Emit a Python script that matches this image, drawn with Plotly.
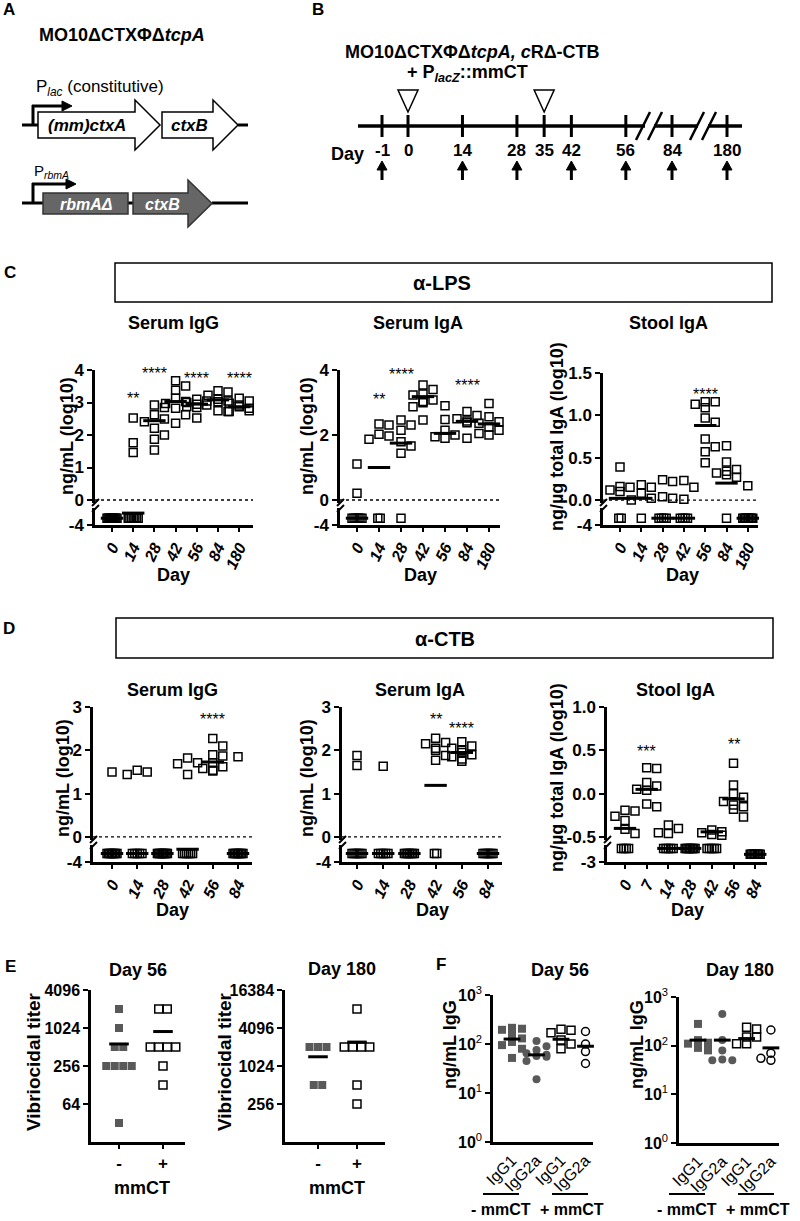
import numpy as np
import plotly.graph_objects as go
from collections import Counter

W, H = 800, 1221
FONT = "Liberation Sans, Arial, Helvetica, sans-serif"
GRAY = "#595959"

# ---------------- data ----------------
BLD = -3.6     # plotted level of samples below detection (panel C)
BLD_D = -3.5   # panel D serum
BLD_S = -2.2   # panel D stool

C_DAYS = ["0", "14", "28", "42", "56", "84", "180"]
C_IGG = [
    [BLD] * 10,
    [2.52, 1.76, 1.46] + [BLD] * 7,
    [2.92, 2.85, 2.62, 2.49, 2.41, 2.21, 2.0, 1.87, 1.54],
    [3.67, 3.51, 3.38, 3.13, 3.03, 2.97, 2.82, 2.62, 2.36],
    [3.1, 3.05, 3.0, 2.95, 2.92, 2.88, 2.85, 2.52],
    [3.36, 3.32, 3.22, 3.1, 3.05, 3.02, 2.75, 2.72],
    [3.13, 3.05, 2.98, 2.92, 2.87, 2.82, 2.75, 2.72],
]
C_IGG_MEAN = [BLD, -3.3, 2.44, 3.03, 2.95, 3.08, 2.87]
C_IGG_STARS = ["", "**", "****", "****", "****", "****", "****"]
C_IGG_STAR_Y = [None, 3.23, 3.97, 4.82, 3.82, 4.29, 3.82]

C_IGA = [
    [1.11, 0.21] + [BLD] * 6,
    [2.34, 2.31, 2.02, 1.97, 1.87] + [BLD] * 2,
    [2.46, 2.31, 2.15, 1.79, 1.66, 1.44, BLD],
    [3.54, 3.4, 3.26, 3.23, 3.08, 3.03, 2.99, 2.87, 2.46],
    [2.9, 2.48, 2.15, 2.0, 1.95, 1.9],
    [2.72, 2.6, 2.5, 2.43, 2.38, 1.9],
    [2.97, 2.56, 2.41, 2.36, 2.25, 2.15, 2.05, 2.0],
]
C_IGA_MEAN = [BLD, 1.0, 1.75, 3.18, 2.05, 2.42, 2.34]
C_IGA_STARS = ["", "**", "****", "****", "****", "****", "****"]
C_IGA_STAR_Y = [None, 3.18, 3.95, 4.56, 4.15, 3.6, 4.15]

C_STOOL = [
    [0.39, 0.16, 0.15, 0.12, 0.1] + [BLD] * 2,
    [0.18, 0.15, 0.08, 0.02, 0.0] + [BLD],
    [0.24, 0.22, 0.04, 0.02] + [BLD] * 4,
    [0.23, 0.15, 0.01] + [BLD] * 4,
    [1.16, 1.16, 1.13, 1.09, 0.97, 0.92, 0.72, 0.63, 0.57, 0.44],
    [0.64, 0.45, 0.36, 0.34, 0.32, 0.3, 0.27] + [BLD],
    [0.17] + [BLD] * 8,
]
C_STOOL_MEAN = [0.02, 0.02, BLD, BLD, 0.88, 0.2, BLD]
C_STOOL_STARS = ["", "", "", "", "****", "", ""]
C_STOOL_STAR_Y = [None, None, None, None, 1.28, None, None]

D_DAYS = ["0", "14", "28", "42", "56", "84"]
D_IGG = [
    [1.5] + [BLD_D] * 8,
    [1.54, 1.5, 1.44] + [BLD_D] * 5,
    [BLD_D] * 9,
    [1.82, 1.71, 1.69, 1.44] + [BLD_D] * 6,
    [2.27, 2.1, 1.9, 1.87, 1.71, 1.62, 1.58, 1.54, 1.52],
    [1.85] + [BLD_D] * 8,
]
D_IGG_MEAN = [BLD_D, BLD_D, BLD_D, -3.25, 1.73, BLD_D]
D_IGG_STARS = ["", "", "", "", "****", ""]
D_IGG_STAR_Y = [None, None, None, None, 2.77, None]

D_IGA = [
    [1.88, 1.65] + [BLD_D] * 6,
    [1.63] + [BLD_D] * 5,
    [BLD_D] * 7,
    [2.28, 2.18, 2.15, 2.05, 2.0, 1.88, 1.77] + [BLD_D] * 2,
    [2.2, 2.1, 2.05, 2.0, 1.95, 1.9, 1.85, 1.8, 1.75],
    [BLD_D] * 6,
]
D_IGA_MEAN = [BLD_D, BLD_D, BLD_D, 1.19, 1.95, BLD_D]
D_IGA_STARS = ["", "", "", "**", "****", ""]
D_IGA_STAR_Y = [None, None, None, 2.77, 2.58, None]

D_STOOL_DAYS = ["0", "7", "14", "28", "42", "56", "84"]
D_STOOL = [
    [-0.19, -0.2, -0.26, -0.31, -0.41, -0.46] + [BLD_S] * 4,
    [0.3, 0.29, 0.13, 0.09, 0.05, 0.04, -0.12, -0.15],
    [-0.36, -0.4, -0.45, -0.46] + [BLD_S] * 5,
    [BLD_S] * 8,
    [-0.42, -0.44, -0.45, -0.47, -0.48] + [BLD_S] * 5,
    [0.35, 0.1, 0.0, -0.04, -0.09, -0.13, -0.15, -0.18, -0.27],
    [-2.55] * 8,
]
D_STOOL_MEAN = [-0.4, 0.05, BLD_S, BLD_S, -0.44, -0.06, -2.55]
D_STOOL_STARS = ["", "***", "", "", "", "**", ""]
D_STOOL_STAR_Y = [None, 0.52, None, None, None, 0.6, None]

E_CATS = ["-", "+"]
E56 = [[2048, 1024, 512, 512, 256, 256, 256, 256, 32],
       [2048, 2048, 512, 512, 512, 512, 256, 128]]
E56_MEAN = [572, 900]
E180 = [[2048, 2048, 2048, 512, 512],
        [8192, 2048, 2048, 2048, 2048, 512, 256]]
E180_MEAN = [1434, 2450]

F_CATS = ["IgG1", "IgG2a", "IgG1", "IgG2a"]
F56 = [[214, 205, 195, 160, 130, 110, 95, 80, 52],
       [115, 90, 75, 65, 60, 57, 55, 45, 19],
       [200, 190, 170, 120, 100, 80],
       [180, 130, 100, 70, 65, 40]]
F56_MEAN = [126, 60, 125, 90]
F180 = [[280, 130, 115, 110, 100, 90, 85, 80],
        [450, 130, 80, 52, 50, 50],
        [240, 220, 150, 150, 110, 110],
        [210, 70, 60, 55, 50]]
F180_MEAN = [130, 130, 140, 90]

B_DAYS = [-1, 0, 14, 28, 35, 42, 56, 84, 180]
B_DOSE_DAYS = [0, 35]
B_SAMPLE_DAYS = [-1, 14, 28, 42, 56, 84, 180]

# ---------------- helpers ----------------
def fx(p): return p / W
def fy(p): return 1 - p / H

fig = go.Figure()
shapes, annotations, axes = [], [], {}
n_ax = [0]

AXLINE = dict(showline=True, linecolor="black", linewidth=2.5, ticks="outside",
              ticklen=5, tickwidth=2, tickcolor="black",
              tickfont=dict(family=FONT, size=17, color="black"))

def add_axes(xpx, ypx, xrange, yrange, xkw=None, ykw=None):
    n_ax[0] += 1
    s = "" if n_ax[0] == 1 else str(n_ax[0])
    base = dict(showgrid=False, zeroline=False, showline=False, ticks="",
                showticklabels=True, fixedrange=True, automargin=False)
    xa = dict(base, domain=[fx(xpx[0]), fx(xpx[1])], range=xrange, anchor="y" + s)
    ya = dict(base, domain=[fy(ypx[1]), fy(ypx[0])], range=yrange, anchor="x" + s)
    if xkw: xa.update(xkw)
    if ykw: ya.update(ykw)
    axes["xaxis" + s] = xa
    axes["yaxis" + s] = ya
    return "x" + s, "y" + s

def ann(x, y, text, size=17, bold=True, italic=False, xanchor="center", yanchor="middle",
        angle=0, color="black", xref="paper", yref="paper", yshift=0):
    if xref == "paper": x = fx(x)
    if yref == "paper": y = fy(y)
    t = f"<i>{text}</i>" if italic else text
    t = f"<b>{t}</b>" if bold else t
    annotations.append(dict(x=x, y=y, xref=xref, yref=yref, text=t, showarrow=False,
                            font=dict(family=FONT, size=size, color=color),
                            xanchor=xanchor, yanchor=yanchor, textangle=angle, yshift=yshift))

def seg(x0, y0, x1, y1, w=3, color="black", dash=None):
    shapes.append(dict(type="line", xref="paper", yref="paper", x0=fx(x0), y0=fy(y0),
                       x1=fx(x1), y1=fy(y1), line=dict(color=color, width=w, dash=dash)))

def poly(pts, fill="white", lw=1.5, lc="black"):
    d = "M " + " L ".join(f"{fx(a):.5f},{fy(b):.5f}" for a, b in pts) + " Z"
    shapes.append(dict(type="path", xref="paper", yref="paper", path=d,
                       fillcolor=fill, line=dict(color=lc, width=lw)))

def swarm_offsets(vals, ppu, size=8.0, step=5.0, maxoff=12.0):
    cands = [0.0]
    k = 1
    while k * step <= maxoff + 1e-9:
        cands += [k * step, -k * step]
        k += 1
    placed, out = [], []
    for v in vals:
        y = v * ppu
        best, bestc = 0.0, None
        for c in cands:
            cnt = sum(1 for (a, b) in placed if abs(a - c) < size and abs(b - y) < size)
            if cnt == 0:
                best = c
                break
            if bestc is None or cnt < bestc:
                bestc, best = cnt, c
        placed.append((best, y))
        out.append(best)
    return out

def row_offsets(vals, step):
    cnt, seen, out = Counter(vals), Counter(), []
    for v in vals:
        out.append((seen[v] - (cnt[v] - 1) / 2) * step)
        seen[v] += 1
    return out

def bar_marker(size=16):
    return dict(symbol="line-ew", size=size, color="black", line=dict(width=3, color="black"))

OPEN_SQ = dict(symbol="square-open", size=8, color="black", line=dict(width=1.5, color="black"))

# ---------------- panels C & D (broken axes) ----------------
def broken_panel(geo, cats, groups, means, stars, star_y, dotted=True):
    xl, xr = geo["xpx"]
    cat0, dcat = geo["cat0"], geo["dcat"]
    xrng = [(xl - cat0) / dcat, (xr - cat0) / dcat]
    top_px, top_val, ppu, ub = geo["top_px"], geo["top_val"], geo["ppu"], geo["up_bot"]
    up_min = top_val - (ub - top_px) / ppu
    upt = geo["upticks"]
    xU, yU = add_axes((xl, xr), (top_px, ub), xrng, [up_min, top_val],
                      xkw=dict(visible=False),
                      ykw=dict(AXLINE, tickvals=upt,
                               ticktext=[f"<b>{geo['fmt'].format(v)}</b>" for v in upt]))
    lt, lb = geo["low"]
    lr = geo["low_range"]
    xL, yL = add_axes((xl, xr), (lt, lb), xrng, list(lr),
                      xkw=dict(AXLINE, tickvals=list(range(len(cats))),
                               ticktext=[f"<b><i>{c}</i></b>" for c in cats], tickangle=-65,
                               ticklen=4, tickfont=dict(family=FONT, size=16, color="black")),
                      ykw=dict(AXLINE, tickvals=[lr[0]], ticktext=[f"<b>{lr[0]:g}</b>"]))
    ux, uy, lx, ly = [], [], [], []
    for i, vals in enumerate(groups):
        up = [v for v in vals if v >= up_min]
        lo = [v for v in vals if v < up_min]
        offs = swarm_offsets(up, ppu)
        ux += [i + o / dcat for o in offs]
        uy += up
        n = len(lo)
        if n:
            w = min(1.2 * (n - 1), 5)
            lo_offs = np.linspace(-w, w, n) if n > 1 else [0.0]
            lx += [i + o / dcat for o in lo_offs]
            ly += lo
    common = dict(mode="markers", showlegend=False, hoverinfo="skip", cliponaxis=False)
    fig.add_trace(go.Scatter(x=ux, y=uy, xaxis=xU, yaxis=yU, marker=OPEN_SQ, **common))
    fig.add_trace(go.Scatter(x=lx, y=ly, xaxis=xL, yaxis=yL, marker=OPEN_SQ, **common))
    mu = [(i, m) for i, m in enumerate(means) if m >= up_min]
    ml = [(i, m) for i, m in enumerate(means) if m < up_min]
    fig.add_trace(go.Scatter(x=[a for a, _ in mu], y=[b for _, b in mu], xaxis=xU, yaxis=yU,
                             marker=bar_marker(), **common))
    fig.add_trace(go.Scatter(x=[a for a, _ in ml], y=[b for _, b in ml], xaxis=xL, yaxis=yL,
                             marker=bar_marker(), **common))
    if dotted:
        shapes.append(dict(type="line", xref=xU, yref=yU, x0=xrng[0], x1=xrng[1], y0=0, y1=0,
                           line=dict(color="black", width=1.3, dash="dot")))
    for i, (s, y) in enumerate(zip(stars, star_y)):
        if s:
            ann(i, y, s, size=16, bold=False, xref=xU, yref=yU, yshift=-3)
    # axis break marks
    seg(xl - 3, ub + 3, xl + 4, ub - 4, w=2)
    seg(xl - 3, lt + 4, xl + 4, lt - 3, w=2)
    ann(geo["title_xy"][0], geo["title_xy"][1], geo["title"], size=18)
    ann(geo["ytitle_xy"][0], geo["ytitle_xy"][1], geo["ytitle"], size=18, angle=-90)
    ann(geo["day_xy"][0], geo["day_xy"][1], "Day", size=18)

GEO_C_IGG = dict(xpx=(95, 253), cat0=112, dcat=21.2, top_px=370, top_val=4, ppu=32.5,
                 up_bot=503, low=(508, 525), low_range=(-4, -3), upticks=[0, 1, 2, 3, 4],
                 fmt="{:g}", title="Serum IgG", title_xy=(173, 323), ytitle="ng/mL (log10)",
                 ytitle_xy=(67, 436), day_xy=(173, 575))
GEO_C_IGA = dict(xpx=(340, 500), cat0=357, dcat=22.0, top_px=370, top_val=4, ppu=32.5,
                 up_bot=503, low=(508, 525), low_range=(-4, -3), upticks=[0, 2, 4],
                 fmt="{:g}", title="Serum IgA", title_xy=(418, 323), ytitle="ng/mL (log10)",
                 ytitle_xy=(307, 436), day_xy=(420, 575))
GEO_C_ST = dict(xpx=(603, 758), cat0=620, dcat=21.3, top_px=373, top_val=1.5, ppu=84.7,
                up_bot=503, low=(508, 525), low_range=(-4, -3), upticks=[0, 0.5, 1.0, 1.5],
                fmt="{:.1f}", title="Stool IgA", title_xy=(668, 323),
                ytitle="ng/µg total IgA (log10)", ytitle_xy=(557, 437), day_xy=(682, 575))
GEO_D_IGG = dict(xpx=(93, 252), cat0=112, dcat=25.2, top_px=707, top_val=3, ppu=43.3,
                 up_bot=840, low=(845, 862), low_range=(-4, -3), upticks=[0, 1, 2, 3],
                 fmt="{:g}", title="Serum IgG", title_xy=(172, 690), ytitle="ng/mL (log10)",
                 ytitle_xy=(63, 778), day_xy=(172, 910))
GEO_D_IGA = dict(xpx=(342, 502), cat0=357, dcat=26.2, top_px=707, top_val=3, ppu=43.3,
                 up_bot=840, low=(845, 862), low_range=(-4, -3), upticks=[0, 1, 2, 3],
                 fmt="{:g}", title="Serum IgA", title_xy=(420, 690), ytitle="ng/mL (log10)",
                 ytitle_xy=(307, 778), day_xy=(432, 910))
GEO_D_ST = dict(xpx=(607, 767), cat0=625, dcat=21.7, top_px=707, top_val=1.0, ppu=86.7,
                up_bot=840, low=(845, 862), low_range=(-3, -2), upticks=[-0.5, 0, 0.5, 1.0],
                fmt="{:.1f}", title="Stool IgA", title_xy=(675, 690),
                ytitle="ng/µg total IgA (log10)", ytitle_xy=(557, 778), day_xy=(687, 910))

broken_panel(GEO_C_IGG, C_DAYS, C_IGG, C_IGG_MEAN, C_IGG_STARS, C_IGG_STAR_Y)
broken_panel(GEO_C_IGA, C_DAYS, C_IGA, C_IGA_MEAN, C_IGA_STARS, C_IGA_STAR_Y)
broken_panel(GEO_C_ST, C_DAYS, C_STOOL, C_STOOL_MEAN, C_STOOL_STARS, C_STOOL_STAR_Y)
broken_panel(GEO_D_IGG, D_DAYS, D_IGG, D_IGG_MEAN, D_IGG_STARS, D_IGG_STAR_Y)
broken_panel(GEO_D_IGA, D_DAYS, D_IGA, D_IGA_MEAN, D_IGA_STARS, D_IGA_STAR_Y)
broken_panel(GEO_D_ST, D_STOOL_DAYS, D_STOOL, D_STOOL_MEAN, D_STOOL_STARS, D_STOOL_STAR_Y,
             dotted=False)

# antigen boxes
shapes.append(dict(type="rect", xref="paper", yref="paper", x0=fx(115), x1=fx(772),
                   y0=fy(302), y1=fy(263), line=dict(color="black", width=1.5)))
ann(442, 283, "α-LPS", size=20)
shapes.append(dict(type="rect", xref="paper", yref="paper", x0=fx(116), x1=fx(773),
                   y0=fy(658), y1=fy(618), line=dict(color="black", width=1.5)))
ann(445, 639, "α-CTB", size=20)

# ---------------- panel E ----------------
def titer_panel(geo, groups, means):
    xl, xr = geo["xpx"]
    yt, yb = geo["ypx"]
    cat0, dcat = geo["cat0"], geo["dcat"]
    xrng = [(xl - cat0) / dcat, (xr - cat0) / dcat]
    lo, hi = geo["yrange"]
    xa, ya = add_axes((xl, xr), (yt, yb), xrng, [np.log10(lo), np.log10(hi)],
                      xkw=dict(AXLINE, tickvals=[0, 1], ticktext=[f"<b>{c}</b>" for c in E_CATS],
                               ticklen=4, tickfont=dict(family=FONT, size=17, color="black")),
                      ykw=dict(AXLINE, type="log", tickvals=geo["yticks"],
                               tickfont=dict(family=FONT, size=16, color="black"),
                               ticktext=[f"<b>{v}</b>" for v in geo["yticks"]]))
    styles = [dict(symbol="square", size=8, color=GRAY, line=dict(width=0)), OPEN_SQ]
    for i, vals in enumerate(groups):
        offs = row_offsets(vals, 8.5)
        fig.add_trace(go.Scatter(x=[i + o / dcat for o in offs], y=vals, xaxis=xa, yaxis=ya,
                                 mode="markers", marker=styles[i], showlegend=False,
                                 hoverinfo="skip", cliponaxis=False))
    fig.add_trace(go.Scatter(x=list(range(len(means))), y=means, xaxis=xa, yaxis=ya,
                             mode="markers", marker=bar_marker(14), showlegend=False,
                             hoverinfo="skip", cliponaxis=False))
    ann(geo["title_xy"][0], geo["title_xy"][1], geo["title"], size=18)
    ann(geo["ytitle_x"], 1062, "Vibriocidal titer", size=19, angle=-90)
    ann(geo["mm_x"], 1188, "mmCT", size=18)

titer_panel(dict(xpx=(91, 185), ypx=(990, 1142), cat0=119, dcat=44, yrange=(16, 4096),
                 yticks=[64, 256, 1024, 4096], title="Day 56", title_xy=(138, 970),
                 ytitle_x=33, mm_x=142), E56, E56_MEAN)
titer_panel(dict(xpx=(285, 385), ypx=(990, 1142), cat0=318, dcat=39, yrange=(64, 16384),
                 yticks=[256, 1024, 4096, 16384], title="Day 180", title_xy=(342, 969),
                 ytitle_x=224, mm_x=337), E180, E180_MEAN)

# ---------------- panel F ----------------
def igg_panel(geo, groups, means):
    xl, xr = geo["xpx"]
    yt, yb = geo["ypx"]
    cat0, dcat = geo["cat0"], geo["dcat"]
    xrng = [(xl - cat0) / dcat, (xr - cat0) / dcat]
    ppd = (yb - yt) / 3.0
    xa, ya = add_axes((xl, xr), (yt, yb), xrng, [0, 3],
                      xkw=dict(AXLINE, tickvals=list(range(4)), ticktext=F_CATS, tickangle=-45,
                               ticks="", ticklen=0,
                               tickfont=dict(family=FONT, size=16, color="black")),
                      ykw=dict(AXLINE, type="log", tickvals=[1, 10, 100, 1000],
                               tickfont=dict(family=FONT, size=16, color="black"),
                               ticktext=[f"<b>10</b><sup>{k}</sup>" for k in range(4)]))
    styles = [dict(symbol="square", size=8, color=GRAY, line=dict(width=0)),
              dict(symbol="circle", size=8, color=GRAY, line=dict(width=0)),
              OPEN_SQ,
              dict(symbol="circle-open", size=8, color="black", line=dict(width=1.5, color="black"))]
    for i, vals in enumerate(groups):
        offs = swarm_offsets(list(np.log10(vals)), ppd, size=7.5, step=5, maxoff=10)
        fig.add_trace(go.Scatter(x=[i + o / dcat for o in offs], y=vals, xaxis=xa, yaxis=ya,
                                 mode="markers", marker=styles[i], showlegend=False,
                                 hoverinfo="skip", cliponaxis=False))
    fig.add_trace(go.Scatter(x=list(range(len(means))), y=means, xaxis=xa, yaxis=ya,
                             mode="markers", marker=bar_marker(12), showlegend=False,
                             hoverinfo="skip", cliponaxis=False))
    ann(geo["title_xy"][0], geo["title_xy"][1], geo["title"], size=18)
    ann(geo["ytitle_x"], 1045, "ng/mL IgG", size=18, angle=-90)
    u = geo["under"]
    seg(u[0], 1194, u[1], 1194, w=2)
    seg(u[2], 1194, u[3], 1194, w=2)
    ann((u[0] + u[1]) / 2, 1209, "- mmCT", size=16)
    ann((u[2] + u[3]) / 2 + 2, 1209, "+ mmCT", size=16)

igg_panel(dict(xpx=(493, 593), ypx=(995, 1142), cat0=512, dcat=24.5, title="Day 56",
               title_xy=(560, 970), ytitle_x=450, under=(483, 519, 552, 588)), F56, F56_MEAN)
igg_panel(dict(xpx=(679, 779), ypx=(997, 1143), cat0=698, dcat=24.3, title="Day 180",
               title_xy=(740, 970), ytitle_x=637, under=(669, 705, 738, 774)), F180, F180_MEAN)

# ---------------- panel A (schematic) ----------------
ann(122, 35, "MO10ΔCTXΦΔ<i>tcpA</i>", size=18)
ann(34, 88, "P<sub><i>lac</i></sub> (constitutive)", size=17, bold=False, xanchor="left")
seg(22, 125, 38, 125, w=3)
seg(238, 125, 248, 125, w=3)
seg(33, 125, 33, 105, w=3)
seg(32, 106, 64, 106, w=3)
poly([(62, 101), (72, 106), (62, 111)], fill="black", lw=1)
poly([(38, 112), (135, 112), (135, 100), (160, 125), (135, 150), (135, 138), (38, 138)])
poly([(162, 112), (213, 112), (213, 100), (238, 125), (213, 150), (213, 138), (162, 138)])
ann(87, 126, "(mm)ctxA", size=17, italic=True)
ann(189, 126, "ctxB", size=17, italic=True)

ann(32, 171, "P<sub><i>rbmA</i></sub>", size=15, bold=False, xanchor="left")
seg(22, 203, 43, 203, w=3)
seg(128, 203, 133, 203, w=3)
seg(212, 203, 248, 203, w=3)
seg(33, 203, 33, 183, w=3)
seg(32, 184, 68, 184, w=3)
poly([(66, 179), (76, 184), (66, 189)], fill="black", lw=1)
poly([(43, 193), (128, 193), (128, 214), (43, 214)], fill="#666666", lc="#333333")
poly([(133, 193), (188, 193), (188, 180), (212, 203.5), (188, 227), (188, 214), (133, 214)],
     fill="#666666", lc="#333333")
ann(86, 204, "rbmAΔ", size=16, italic=True, color="white")
ann(162, 204, "ctxB", size=16, italic=True, color="white")

# ---------------- panel B (timeline) ----------------
def tl_pos(d):
    # schematic timeline: linear up to day 56, fixed slots after each break
    if d < 0:
        return 382
    if d <= 56:
        return 408 + d * 3.89
    return 626 + {84: 46, 180: 101}[d]

ann(472, 52, "MO10ΔCTXΦΔ<i>tcpA, c</i>RΔ-CTB", size=18)
ann(467, 73, "+ P<sub><i>lacZ</i></sub>::mmCT", size=18)
seg(358, 126, 645, 126, w=3.5)
seg(654, 126, 698, 126, w=3.5)
seg(708, 126, 742, 126, w=3.5)
for xb in (643, 655, 697, 709):
    seg(xb - 7, 140, xb + 7, 112, w=2.5)
for d in B_DAYS:
    x = tl_pos(d)
    seg(x, 115, x, 137, w=3)
    ann(x, 151, str(d), size=17)
ann(347, 154, "Day", size=18)
for d in B_DOSE_DAYS:
    x = tl_pos(d)
    poly([(x - 10, 90), (x + 10, 90), (x, 112)], fill="white", lw=1.5)
for d in B_SAMPLE_DAYS:
    x = tl_pos(d)
    seg(x, 180, x, 169, w=3)
    poly([(x - 5, 170), (x + 5, 170), (x, 161)], fill="black", lw=1)

# panel letters
for L, (x, y) in {"A": (9, 10), "B": (318, 9), "C": (10, 272), "D": (9, 628),
                  "E": (10, 966), "F": (441, 964)}.items():
    ann(x, y, L, size=17)

fig.update_layout(width=W, height=H, margin=dict(l=0, r=0, t=0, b=0, pad=0), autosize=False,
                  paper_bgcolor="white", plot_bgcolor="white",
                  font=dict(family=FONT, color="black"), shapes=shapes,
                  annotations=annotations, showlegend=False, **axes)
fig.write_html("out.html", config={"displayModeBar": False},
               post_script="document.body.style.margin='0';")
